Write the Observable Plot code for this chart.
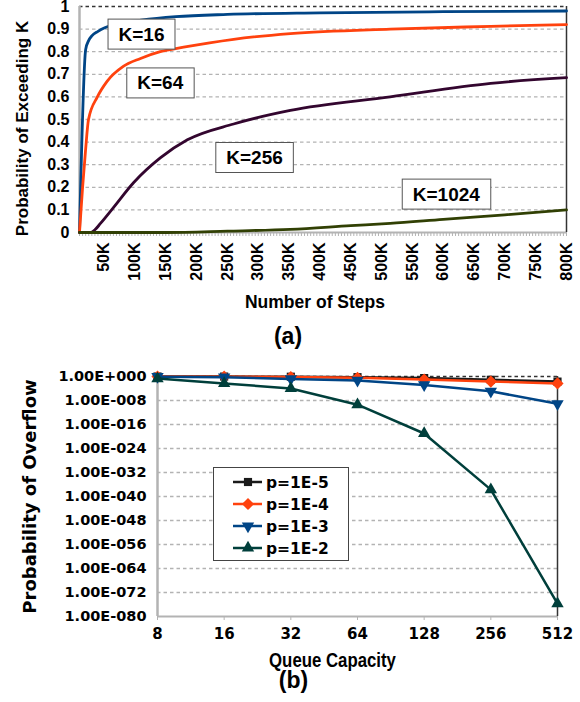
<!DOCTYPE html>
<html><head><meta charset="utf-8">
<script src="https://cdn.jsdelivr.net/npm/d3@7"></script>
<script src="https://cdn.jsdelivr.net/npm/@observablehq/plot@0.6"></script>
<style>
body{margin:0;background:#fff;}
svg{display:block;}
</style>
</head><body>
<div id="chartA"></div>
<div id="chartB"></div>
<script>
// ---------- (a) data ----------
const kLabels = ["K=16", "K=64", "K=256", "K=1024"];
const kColors = ["#004586", "#ff420e", "#33062f", "#314004"];
const k16Steps = [10000, 20000, 25000, 30000, 40000, 50000, 60000, 80000, 110000, 166000, 250000, 400000, 600000, 800000];
const k16Prob  = [0, 0.81, 0.85, 0.87, 0.89, 0.905, 0.915, 0.928, 0.94, 0.955, 0.965, 0.972, 0.977, 0.98];
const k64Steps = [10000, 15000, 19700, 24600, 39000, 55000, 81000, 109000, 141000, 179000, 260000, 352000, 514000, 677000, 800000];
const k64Prob  = [0, 0.2, 0.36, 0.5, 0.6, 0.67, 0.735, 0.77, 0.8, 0.82, 0.855, 0.88, 0.9, 0.912, 0.92];
const k256Steps = [10000, 27800, 35000, 44000, 65000, 97600, 141000, 185000, 260000, 352000, 514000, 677000, 800000];
const k256Prob  = [0, 0, 0.012, 0.04, 0.11, 0.22, 0.33, 0.41, 0.48, 0.54, 0.6, 0.66, 0.685];
const k1024Steps = [10000, 150000, 250000, 352000, 450000, 514000, 600000, 700000, 800000];
const k1024Prob  = [0, 0, 0.006, 0.014, 0.03, 0.04, 0.058, 0.078, 0.1];
const labelSteps = [110600, 141000, 294000, 605000];
const labelProb  = [0.876, 0.66, 0.33, 0.168];
const stepTicks = [50000, 100000, 150000, 200000, 250000, 300000, 350000, 400000, 450000, 500000, 550000, 600000, 650000, 700000, 750000, 800000];
const minorStepTicks = d3.range(10000, 800001, 5000);
const probTicks = [0, 0.1, 0.2, 0.3, 0.4, 0.5, 0.6, 0.7, 0.8, 0.9, 1];

// ---------- (b) data ----------
const capacities = [8, 16, 32, 64, 128, 256, 512];
const pLabels = ["p=1E-5", "p=1E-4", "p=1E-3", "p=1E-2"];
const pColors = ["#1a1a1a", "#ff420e", "#004586", "#003f3b"];
const pE5 = [1, 0.95, 0.85, 0.6, 0.3, 0.08, 0.02];
const pE4 = [1, 0.9, 0.7, 0.35, 0.1, 0.02, 0.005];
const pE3 = [0.9, 0.6, 0.16, 0.05, 1.6e-3, 1.2e-5, 8e-10];
const pE2 = [0.2, 5e-3, 1e-4, 4e-10, 1e-19, 2e-38, 2e-76];
const overflowTicks = [1, 1e-8, 1e-16, 1e-24, 1e-32, 1e-40, 1e-48, 1e-56, 1e-64, 1e-72, 1e-80];

// ---------- build (a) ----------
const curveSets = [[k16Steps, k16Prob], [k64Steps, k64Prob], [k256Steps, k256Prob], [k1024Steps, k1024Prob]];
const curveRows = [];
curveSets.forEach(([xs, ys], i) => xs.forEach((x, j) => curveRows.push({k: kLabels[i], step: x, prob: ys[j]})));
const labelRows = kLabels.map((k, i) => ({k, step: labelSteps[i], prob: labelProb[i]}));

const dash = "3.5,3";
const chartA = Plot.plot({
  width: 580, height: 355,
  marginTop: 6, marginBottom: 123, marginLeft: 79, marginRight: 14,
  style: {fontFamily: "'Liberation Sans', Arial, sans-serif", fontSize: "16px", fontWeight: "bold", color: "#000", background: "#fff", overflow: "visible"},
  x: {domain: [10000, 800000]},
  y: {domain: [0, 1]},
  color: {domain: kLabels, range: kColors},
  marks: [
    Plot.gridY(probTicks.slice(1, -1), {stroke: "#b3b3b3", strokeOpacity: 1, strokeDasharray: dash, strokeWidth: 1.3}),
    Plot.ruleY([1], {stroke: "#333", strokeDasharray: dash, strokeWidth: 1.3}),
    Plot.axisX(minorStepTicks, {tickSize: 4, tickFormat: () => "", stroke: "#b3b3b3", label: null}),
    Plot.axisX(stepTicks, {tickSize: 0, tickPadding: 10, tickRotate: -90, tickFormat: d => d / 1000 + "K", label: null, fontSize: 16}),
    Plot.axisY(probTicks, {tickSize: 0, tickPadding: 10, tickFormat: d => String(d), label: null, fontSize: 16}),
    Plot.ruleY([0], {stroke: "#b3b3b3", strokeWidth: 2}),
    Plot.ruleX([10000], {stroke: "#b3b3b3", strokeWidth: 2.5}),
    Plot.ruleX([800000], {stroke: "#333", strokeWidth: 1.5}),
    Plot.line(curveRows, {x: "step", y: "prob", z: "k", stroke: "k", strokeWidth: 2.8, curve: "monotone-x"}),
    Plot.text(labelRows, {x: "step", y: "prob", text: "k", fontSize: 19, fontWeight: "bold", fill: "#000"}),
    Plot.text(["Number of Steps"], {text: d => d, frameAnchor: "bottom", dx: -8, dy: 75, fontSize: 17.5, fontWeight: "bold"}),
    Plot.text(["(a)"], {text: d => d, frameAnchor: "bottom", dx: -35, dy: 111, fontSize: 23, fontWeight: "bold"}),
    Plot.text(["Probability of Exceeding K"], {text: d => d, frameAnchor: "left", textAnchor: "middle", rotate: -90, dx: -57, dy: 9, fontSize: 17, fontWeight: "bold"})
  ]
});
document.getElementById("chartA").append(chartA);

// white boxes behind K labels
d3.select(chartA).selectAll("text").filter(function() { return /^K=/.test(this.textContent); }).each(function() {
  const bb = this.getBBox();
  const padX = 10.5, padY = 4.5;
  d3.select(this.parentNode).insert("rect", () => this)
    .attr("transform", this.getAttribute("transform"))
    .attr("x", bb.x - padX).attr("y", bb.y - padY)
    .attr("width", bb.width + 2 * padX).attr("height", bb.height + 2 * padY)
    .attr("fill", "#fff").attr("stroke", "#555").attr("stroke-width", 1);
});

// ---------- build (b) ----------
const pSets = [pE5, pE4, pE3, pE2];
const overflowRows = [];
pSets.forEach((vals, i) => vals.forEach((v, j) => overflowRows.push({p: pLabels[i], cap: capacities[j], prob: v})));

const triDown = {draw(ctx, size) {
  d3.symbolTriangle.draw({moveTo: (x, y) => ctx.moveTo(x, -y), lineTo: (x, y) => ctx.lineTo(x, -y), closePath: () => ctx.closePath()}, size);
}};
const diamondSq = {draw(ctx, size) {
  const r = Math.sqrt(size / 2) * 1.05;
  ctx.moveTo(0, -r); ctx.lineTo(r, 0); ctx.lineTo(0, r); ctx.lineTo(-r, 0); ctx.closePath();
}};
const pSymbols = [d3.symbolSquare, diamondSq, triDown, d3.symbolTriangle];
const expFormat = d => {
  const e = Math.round(Math.log10(d));
  return "1.00E" + (e < 0 ? "-" : "+") + String(Math.abs(e)).padStart(3, "0");
};

const markR = 4.6;
const chartB = Plot.plot({
  width: 580, height: 347,
  marginTop: 21, marginBottom: 86, marginLeft: 157, marginRight: 23,
  style: {fontFamily: "'DejaVu Sans', sans-serif", fontSize: "15px", fontWeight: "bold", color: "#000", background: "#fff", overflow: "visible"},
  x: {type: "log", base: 2, domain: [8, 512]},
  y: {type: "log", domain: [1e-80, 1]},
  color: {domain: pLabels, range: pColors},
  marks: [
    Plot.gridY(overflowTicks.slice(1, -1), {stroke: "#b3b3b3", strokeOpacity: 1, strokeDasharray: dash, strokeWidth: 1.3}),
    Plot.ruleY([1], {stroke: "#333", strokeDasharray: dash, strokeWidth: 1.3}),
    Plot.axisY(overflowTicks, {tickSize: 0, tickPadding: 11, tickFormat: expFormat, label: null, fontSize: 14.5}),
    Plot.axisX(capacities, {tickSize: 4, tickPadding: 8, tickFormat: d => String(d), stroke: "#b3b3b3", label: null, fontSize: 15}),
    Plot.ruleY([1e-80], {stroke: "#b3b3b3", strokeWidth: 2}),
    Plot.ruleX([8], {stroke: "#b3b3b3", strokeWidth: 2.5}),
    Plot.ruleX([512], {stroke: "#333", strokeWidth: 1.5}),
    ...pLabels.flatMap((p, i) => [
      Plot.line(overflowRows.filter(r => r.p === p), {x: "cap", y: "prob", stroke: "p", strokeWidth: 2.5}),
      Plot.dot(overflowRows.filter(r => r.p === p), {x: "cap", y: "prob", fill: "p", symbol: pSymbols[i], r: markR})
    ]),
    Plot.text(["Queue Capacity"], {text: d => d, frameAnchor: "bottom", dx: -25, dy: 50, fontSize: 20, fontFamily: "'Liberation Sans', Arial, sans-serif", fontWeight: "bold"}),
    Plot.text(["(b)"], {text: d => d, frameAnchor: "bottom", dx: -64, dy: 71, fontSize: 23, fontWeight: "bold", fontFamily: "'Liberation Sans', Arial, sans-serif"}),
    Plot.text(["Probability of Overflow"], {text: d => d, frameAnchor: "left", textAnchor: "middle", rotate: -90, dx: -127, dy: 0, fontSize: 18, fontWeight: "bold"})
  ]
});
document.getElementById("chartB").append(chartB);

// condense the "Queue Capacity" title like the reference
d3.select(chartB).selectAll("text").filter(function() { return this.textContent === "Queue Capacity"; })
  .attr("transform", function() { return this.getAttribute("transform") + " scale(0.84,1)"; });

// legend
const color = chartB.scale("color");
const lg = d3.select(chartB).append("g").attr("class", "legend").attr("text-anchor", "start");
lg.append("rect").attr("x", 213.5).attr("y", 112.5).attr("width", 135).attr("height", 93)
  .attr("fill", "#fff").attr("stroke", "#444").attr("stroke-width", 1);
pLabels.forEach((p, i) => {
  const cy = 127 + i * 22;
  const c = color.apply(p);
  lg.append("line").attr("x1", 233).attr("x2", 262).attr("y1", cy).attr("y2", cy).attr("stroke", c).attr("stroke-width", 2.5);
  lg.append("path").attr("transform", `translate(248,${cy})`)
    .attr("d", d3.symbol(pSymbols[i], Math.PI * markR * markR)()).attr("fill", c);
  lg.append("text").attr("x", 266).attr("y", cy).attr("dy", "0.36em").attr("font-size", 15.5).attr("fill", "#000").text(p);
});
</script>
</body></html>
